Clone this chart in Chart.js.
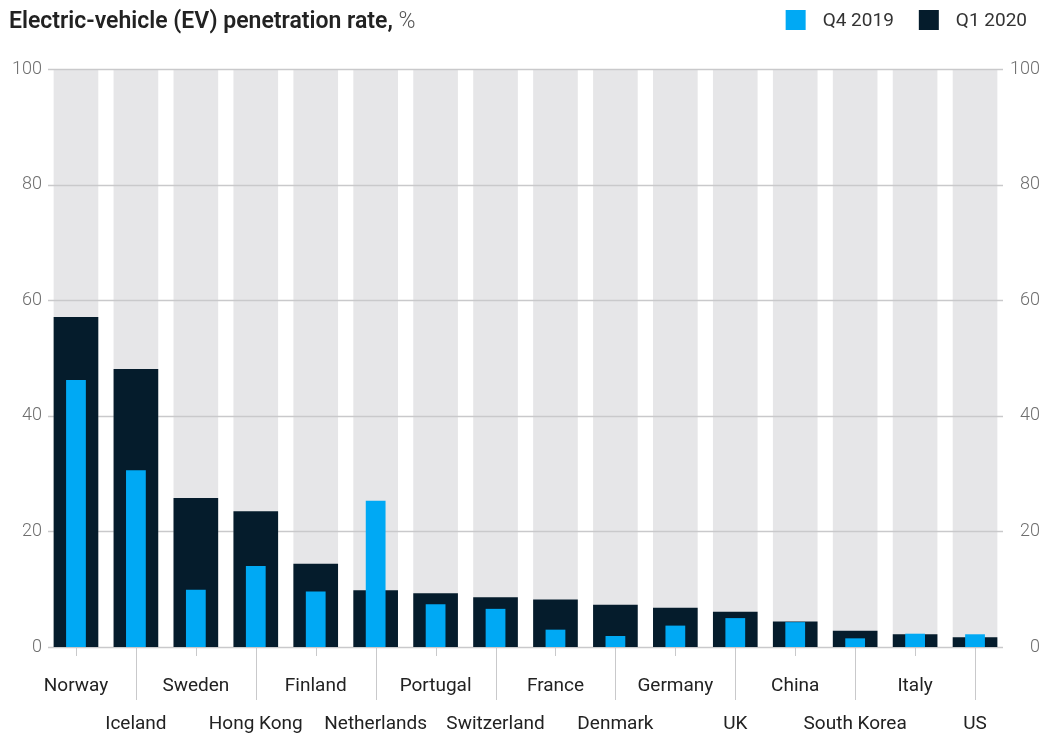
<!DOCTYPE html>
<html>
<head>
<meta charset="utf-8">
<title>Electric-vehicle (EV) penetration rate</title>
<script src="https://cdn.jsdelivr.net/npm/chart.js@4.4.1/dist/chart.umd.min.js"></script>
<style>
  html, body { margin: 0; padding: 0; background: #ffffff; }
  canvas { display: block; }
</style>
</head>
<body>
<canvas id="chart" width="1043" height="736"></canvas>
<script>
// Markets, ordered by Q1 2020 penetration
const categories = [
  'Norway', 'Iceland', 'Sweden', 'Hong Kong', 'Finland', 'Netherlands',
  'Portugal', 'Switzerland', 'France', 'Denmark', 'Germany', 'UK',
  'China', 'South Korea', 'Italy', 'US'
];

// EV share of new-vehicle sales, %
const q4_2019 = [46.2, 30.6, 9.9, 14.0, 9.6, 25.3, 7.4, 6.6, 3.0, 1.9, 3.7, 5.0, 4.3, 1.5, 2.3, 2.2];
const q1_2020 = [57.1, 48.1, 25.8, 23.5, 14.4, 9.8, 9.3, 8.6, 8.2, 7.3, 6.8, 6.1, 4.4, 2.8, 2.2, 1.7];

// Full-scale backdrop column behind every market
const fullScale = [100, 100, 100, 100, 100, 100, 100, 100, 100, 100, 100, 100, 100, 100, 100, 100];

// Value axis ticks
const yTicks = [0, 20, 40, 60, 80, 100];

const seriesLabels = ['Q4 2019', 'Q1 2020'];
const titleMain = 'Electric-vehicle (EV) penetration rate,';
const titleUnit = '%';

const COLORS = {
  light: '#00a9f4',
  dark: '#051c2c',
  track: '#e6e6e8',
  grid: '#c9c9cb',
  text: '#222222',
  axisText: '#6e6e6e'
};
const FONT = 'Roboto, "Open Sans", "DejaVu Sans", sans-serif';

// Horizontal grid lines sit above the grey backdrop columns but below the data bars
const gridBetweenBars = {
  id: 'gridBetweenBars',
  afterDatasetDraw(chart, args) {
    if (args.index !== 0) return;
    const { ctx, chartArea, scales } = chart;
    ctx.save();
    ctx.strokeStyle = COLORS.grid;
    ctx.lineWidth = 1.5;
    yTicks.forEach(v => {
      const y = Math.round(scales.y.getPixelForValue(v)) + 0.5;
      ctx.beginPath();
      ctx.moveTo(chartArea.left + 2, y);
      ctx.lineTo(chartArea.right - 2, y);
      ctx.stroke();
    });
    ctx.restore();
  }
};

// Category tick marks: short under first-row labels, long leaders down to second-row labels
const categoryTicks = {
  id: 'categoryTicks',
  afterDraw(chart) {
    const { ctx, chartArea, scales } = chart;
    const x = scales.x;
    ctx.save();
    ctx.strokeStyle = COLORS.grid;
    ctx.lineWidth = 1;
    categories.forEach((c, i) => {
      const px = Math.round(x.getPixelForTick(i)) + 0.5;
      const len = i % 2 === 0 ? 9 : 53;
      ctx.beginPath();
      ctx.moveTo(px, chartArea.bottom + 1);
      ctx.lineTo(px, chartArea.bottom + len);
      ctx.stroke();
    });
    ctx.restore();
  }
};

// Title (bold statement plus unit) and the right-aligned legend
const header = {
  id: 'header',
  afterDraw(chart) {
    const { ctx } = chart;
    ctx.save();
    ctx.textBaseline = 'middle';
    ctx.textAlign = 'left';
    ctx.font = '600 23px ' + FONT;
    ctx.fillStyle = COLORS.text;
    ctx.fillText(titleMain, 9, 22);
    const w = ctx.measureText(titleMain + ' ').width;
    ctx.font = '300 23px ' + FONT;
    ctx.fillStyle = '#555555';
    ctx.fillText(titleUnit, 9 + w, 22);

    // Legend, laid out from the right edge
    const items = [
      { label: seriesLabels[0], color: COLORS.light },
      { label: seriesLabels[1], color: COLORS.dark }
    ];
    ctx.font = '400 19px ' + FONT;
    let right = 1027;
    const box = 20, boxGap = 17, itemGap = 25;
    for (let i = items.length - 1; i >= 0; i--) {
      const it = items[i];
      const tw = ctx.measureText(it.label).width;
      const tx = right - tw;
      const bx = tx - boxGap - box;
      ctx.fillStyle = it.color;
      ctx.fillRect(bx, 10, box, box);
      ctx.fillStyle = '#333333';
      ctx.fillText(it.label, tx, 21);
      right = bx - itemGap;
    }
    ctx.restore();
  }
};

const valueAxis = (position) => ({
  position,
  min: 0,
  max: 100,
  afterBuildTicks: s => { s.ticks = yTicks.map(v => ({ value: v })); },
  afterFit: s => { s.width = position === 'left' ? 46 : 35; },
  grid: { display: false, drawTicks: false },
  border: { display: false },
  ticks: {
    padding: position === 'left' ? 4 : 3,
    crossAlign: position === 'left' ? 'near' : 'far',
    color: COLORS.axisText,
    font: { family: FONT, size: 18, weight: '300' }
  }
});

new Chart(document.getElementById('chart'), {
  type: 'bar',
  data: {
    labels: categories,
    datasets: [
      {
        label: 'scale',
        data: fullScale,
        backgroundColor: COLORS.track,
        grouped: false,
        barPercentage: 0.745,
        categoryPercentage: 1,
        order: 3
      },
      {
        label: seriesLabels[1],
        data: q1_2020,
        backgroundColor: COLORS.dark,
        grouped: false,
        barPercentage: 0.745,
        categoryPercentage: 1,
        order: 2
      },
      {
        label: seriesLabels[0],
        data: q4_2019,
        backgroundColor: COLORS.light,
        grouped: false,
        barPercentage: 0.33,
        categoryPercentage: 1,
        order: 1
      }
    ]
  },
  options: {
    responsive: false,
    animation: false,
    layout: { padding: { top: 69, right: 3, bottom: 0, left: 0 } },
    plugins: {
      legend: { display: false },
      title: { display: false },
      tooltip: { enabled: false }
    },
    scales: {
      x: {
        type: 'category',
        offset: true,
        afterFit: s => { s.height = 89; },
        grid: { display: false },
        border: { display: false },
        ticks: {
          autoSkip: false,
          maxRotation: 0,
          minRotation: 0,
          padding: 12,
          color: COLORS.text,
          font: { family: FONT, size: 19, lineHeight: 2 },
          callback: (v, i) => (i % 2 === 0 ? categories[i] : ['', categories[i]])
        }
      },
      y: valueAxis('left'),
      y2: valueAxis('right')
    }
  },
  plugins: [gridBetweenBars, categoryTicks, header]
});
</script>
</body>
</html>
